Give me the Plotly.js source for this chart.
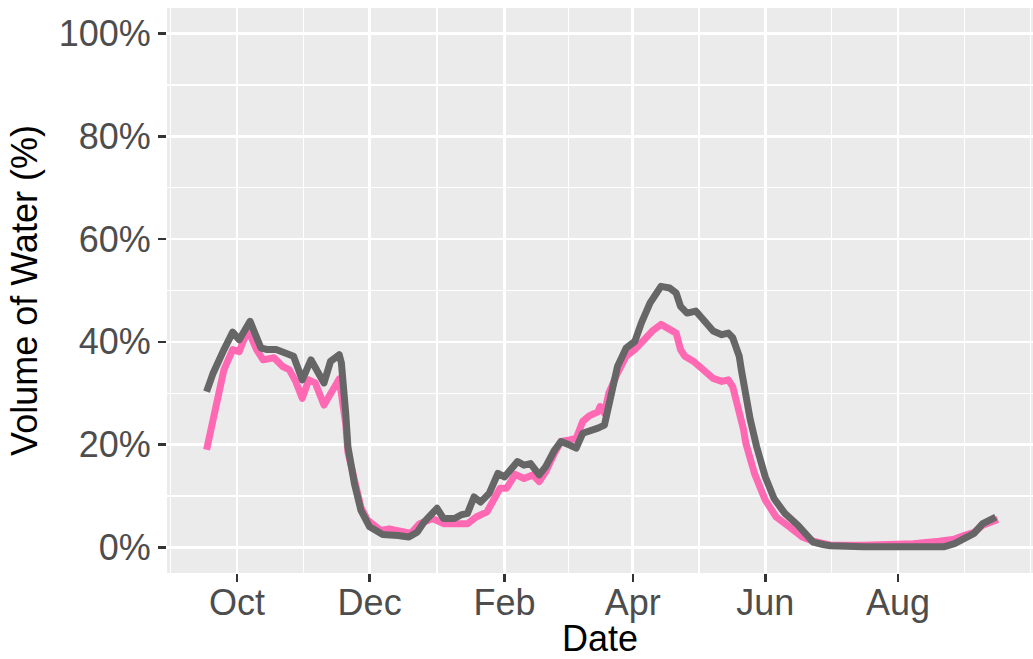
<!DOCTYPE html>
<html>
<head>
<meta charset="utf-8">
<script src="https://cdn.plot.ly/plotly-3.0.1.min.js"></script>
<style>
  html, body { margin: 0; padding: 0; background: #ffffff; }
  #chart { width: 1033px; height: 659px; }
  /* soften line corners like the typical ggplot rendering */
  #chart .scatterlayer path.js-line { stroke-linejoin: round; stroke-linecap: butt; }
</style>
</head>
<body>
<div id="chart"></div>
<script>
// Reservoir volume (% of capacity), two series over one water year
const grayDates = [
  '2018-09-17','2018-09-20','2018-09-25','2018-09-29','2018-10-02','2018-10-07','2018-10-12',
  '2018-10-15','2018-10-19','2018-10-24','2018-10-27','2018-10-31','2018-11-04','2018-11-10',
  '2018-11-13','2018-11-17','2018-11-18','2018-11-20','2018-11-21','2018-11-24','2018-11-27',
  '2018-12-01','2018-12-07','2018-12-14','2018-12-19','2018-12-23','2018-12-26','2019-01-01',
  '2019-01-04','2019-01-09','2019-01-12','2019-01-15','2019-01-18','2019-01-21','2019-01-25',
  '2019-01-29','2019-02-01','2019-02-05','2019-02-07','2019-02-10','2019-02-13','2019-02-17',
  '2019-02-20','2019-02-24','2019-02-27','2019-03-03','2019-03-06','2019-03-09','2019-03-12',
  '2019-03-16','2019-03-19','2019-03-20','2019-03-22','2019-03-25','2019-03-29','2019-04-02',
  '2019-04-05','2019-04-09','2019-04-12','2019-04-14','2019-04-18','2019-04-21','2019-04-23',
  '2019-04-26','2019-04-30','2019-05-02','2019-05-05','2019-05-08','2019-05-12','2019-05-15',
  '2019-05-17','2019-05-20','2019-05-21','2019-05-22','2019-05-24','2019-05-25','2019-05-28',
  '2019-06-01','2019-06-05','2019-06-10','2019-06-16','2019-06-21','2019-06-23','2019-06-28',
  '2019-07-01','2019-07-16','2019-08-08','2019-08-22','2019-08-27','2019-09-02','2019-09-05',
  '2019-09-09','2019-09-15'
];
const grayValues = [
  30.3, 33.9, 38.5, 41.9, 40.4, 44.0, 38.8,
  38.5, 38.5, 37.5, 37.2, 32.6, 36.5, 32.0,
  36.2, 37.5, 35.9, 26.1, 19.6, 12.4, 7.2,
  4.0, 2.5, 2.3, 2.0, 3.0, 4.9, 7.6,
  5.6, 5.6, 6.3, 6.6, 9.8, 8.8, 10.5,
  14.4, 13.7, 15.7, 16.7, 16.0, 16.3, 14.1,
  15.7, 18.9, 20.6, 19.9, 19.3, 22.2, 22.5,
  23.2, 23.8, 25.8, 30.0, 35.2, 38.8, 40.1,
  43.7, 47.6, 49.5, 50.8, 50.5, 49.5, 46.9,
  45.6, 46.0, 45.0, 43.7, 42.1, 41.4, 41.7,
  40.8, 37.2, 34.5, 32.0, 27.0, 25.0, 19.6,
  13.7, 9.5, 6.6, 4.3, 2.0, 1.0, 0.5,
  0.3, 0.1, 0.0, 0.1, 0.7, 2.3, 2.7,
  4.6, 5.9
];

const pinkDates = [
  '2018-09-17','2018-09-19','2018-09-21','2018-09-25','2018-09-29','2018-10-02','2018-10-06',
  '2018-10-10','2018-10-13','2018-10-18','2018-10-22','2018-10-25','2018-10-28','2018-10-31',
  '2018-11-03','2018-11-06','2018-11-10','2018-11-13','2018-11-15','2018-11-17','2018-11-18',
  '2018-11-20','2018-11-21','2018-11-24','2018-11-27','2018-11-30','2018-12-06','2018-12-10',
  '2018-12-15','2018-12-20','2018-12-24','2018-12-30','2019-01-04','2019-01-10','2019-01-15',
  '2019-01-19','2019-01-24','2019-01-27','2019-01-30','2019-02-02','2019-02-06','2019-02-10',
  '2019-02-14','2019-02-17','2019-02-20','2019-02-24','2019-02-27','2019-03-03','2019-03-06',
  '2019-03-09','2019-03-12','2019-03-16','2019-03-17','2019-03-19','2019-03-21','2019-03-25',
  '2019-03-29','2019-04-02','2019-04-06','2019-04-10','2019-04-14','2019-04-17','2019-04-21',
  '2019-04-23','2019-04-25','2019-04-29','2019-05-02','2019-05-05','2019-05-08','2019-05-12',
  '2019-05-15','2019-05-17','2019-05-19','2019-05-20','2019-05-22','2019-05-23','2019-05-27',
  '2019-06-01','2019-06-06','2019-06-12','2019-06-18','2019-06-23','2019-06-28','2019-07-01',
  '2019-07-16','2019-08-08','2019-08-20','2019-08-27','2019-09-01','2019-09-05','2019-09-09',
  '2019-09-16'
];
const pinkValues = [
  19.0, 22.9, 27.7, 34.6, 38.5, 38.1, 42.4,
  38.5, 36.5, 36.9, 35.2, 34.6, 32.3, 29.0,
  32.6, 32.0, 27.7, 30.3, 31.3, 32.8, 30.0,
  24.0, 18.5, 12.8, 7.8, 5.3, 3.3, 3.6,
  3.0, 2.7, 4.6, 5.6, 4.6, 4.6, 4.6,
  5.9, 6.9, 9.2, 11.5, 11.5, 14.2, 13.4,
  14.1, 12.8, 14.7, 18.3, 20.6, 20.9, 21.2,
  24.5, 25.6, 26.4, 27.4, 26.1, 30.0, 33.9,
  37.2, 38.5, 40.4, 42.1, 43.4, 42.7, 41.7,
  38.5, 37.2, 36.2, 35.2, 33.9, 32.9, 32.3,
  32.6, 31.3, 28.1, 26.1, 22.9, 20.3, 14.4,
  9.2, 5.9, 4.0, 2.0, 1.2, 0.6, 0.4,
  0.4, 0.7, 1.2, 1.6, 2.4, 2.9, 4.3,
  5.4
];

// Axis breaks
const monthTicks = ['2018-10-01','2018-12-01','2019-02-01','2019-04-01','2019-06-01','2019-08-01'];
const monthLabels = ['Oct','Dec','Feb','Apr','Jun','Aug'];
const monthMinor = ['2018-08-31 12:00','2018-10-31 12:00','2019-01-01','2019-03-02 12:00',
                    '2019-05-01 12:00','2019-07-01 12:00','2019-08-31 12:00','2019-10-01'];
const pctTicks = [0, 20, 40, 60, 80, 100];
const pctLabels = ['0%','20%','40%','60%','80%','100%'];
const pctMinor = [10, 30, 50, 70, 90];

const FONT = '"Liberation Sans", Arial, Helvetica, sans-serif';

const traces = [
  {
    x: pinkDates, y: pinkValues, type: 'scatter', mode: 'lines',
    line: { color: '#FF69B4', width: 7, shape: 'linear' },
    hoverinfo: 'skip', showlegend: false
  },
  {
    x: grayDates, y: grayValues, type: 'scatter', mode: 'lines',
    line: { color: '#666666', width: 7, shape: 'linear' },
    hoverinfo: 'skip', showlegend: false
  }
];

const layout = {
  width: 1033, height: 659,
  margin: { l: 167, r: 0, t: 8, b: 86, pad: 0 },
  paper_bgcolor: '#ffffff',
  plot_bgcolor: '#EBEBEB',
  showlegend: false,
  font: { family: FONT, size: 36, color: '#4D4D4D' },
  xaxis: {
    type: 'date',
    range: ['2018-08-29 19:00', '2019-10-02 03:00'],
    tickmode: 'array', tickvals: monthTicks, ticktext: monthLabels,
    ticks: 'outside', ticklen: 8, tickwidth: 2.4, tickcolor: '#333333',
    ticklabelstandoff: -10,
    tickfont: { family: FONT, size: 36, color: '#4D4D4D' },
    showgrid: true, gridcolor: '#ffffff', gridwidth: 2.7,
    minor: { tickmode: 'array', tickvals: monthMinor, showgrid: true,
             gridcolor: '#ffffff', gridwidth: 1.4, ticks: '' },
    zeroline: false, showline: false, automargin: false,
    title: { text: 'Date', font: { family: FONT, size: 36, color: '#000000' }, standoff: 14 }
  },
  yaxis: {
    range: [-5, 105],
    tickmode: 'array', tickvals: pctTicks, ticktext: pctLabels,
    ticks: 'outside', ticklen: 8, tickwidth: 2.4, tickcolor: '#333333',
    tickfont: { family: FONT, size: 36, color: '#4D4D4D' },
    showgrid: true, gridcolor: '#ffffff', gridwidth: 2.7,
    minor: { tickmode: 'array', tickvals: pctMinor, showgrid: true,
             gridcolor: '#ffffff', gridwidth: 1.4, ticks: '' },
    zeroline: false, showline: false, automargin: false,
    title: { text: 'Volume of Water (%)', font: { family: FONT, size: 36, color: '#000000' }, standoff: 10 }
  }
};

Plotly.newPlot('chart', traces, layout, { displayModeBar: false, staticPlot: true });
</script>
</body>
</html>
